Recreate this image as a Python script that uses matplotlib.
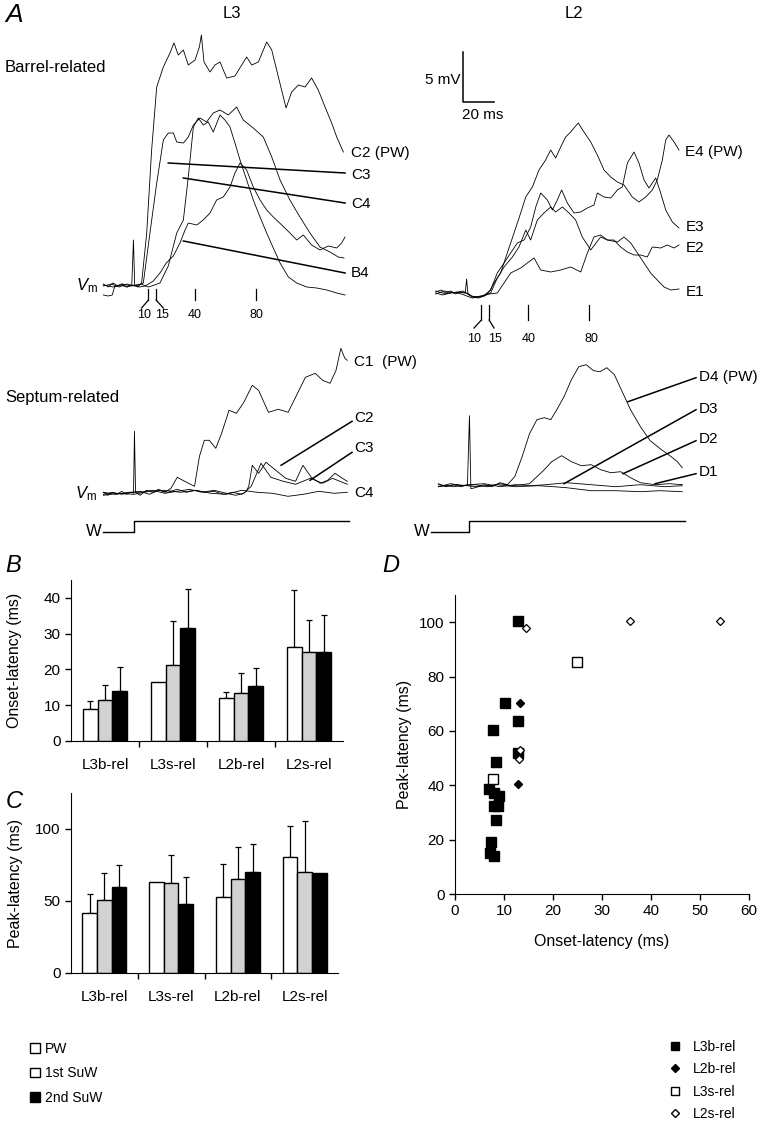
import numpy as np
import matplotlib
matplotlib.use('Agg')
import matplotlib.pyplot as plt
from matplotlib.patches import Patch
from matplotlib.lines import Line2D

plt.rcParams['font.family'] = ['Liberation Sans', 'DejaVu Sans']
plt.rcParams['mathtext.fontset'] = 'custom'
plt.rcParams['mathtext.rm'] = 'Liberation Sans'
plt.rcParams['mathtext.it'] = 'Liberation Sans:italic'

W, H = 768, 1131
PXMS = 1.54   # pixels per ms in panel A
PXMV = 10.0   # pixels per mV in panel A

# ---------------- panel A: traces, (time ms, Vm mV above baseline) ----------------
l3b_c2 = [(-19.3, 0.2), (-16, -0.1), (-13, 0.3), (-10, 0.0), (-7, 0.2), (-4, -0.1), (-0.8, 0.1),
          (0.3, 4.6), (1.1, 0.1), (3, -0.1), (5.6, 0.3), (8.9, 5.3), (12.1, 13.6), (15.4, 19.9),
          (19.7, 21.9), (24.0, 23.3), (26.6, 24.3), (29.4, 23.1), (32.7, 23.6), (35.9, 22.1),
          (40.3, 22.6), (43.1, 23.9), (44.4, 25.1), (46.1, 22.4), (50.0, 21.4), (53.2, 22.1),
          (56.5, 22.4), (60.8, 20.8), (66.2, 21.0), (70.6, 22.1), (73.8, 22.9), (77.1, 22.1),
          (81.4, 22.4), (86.8, 24.4), (90.1, 23.6), (94.4, 20.9), (99.4, 17.8), (103.0, 19.4),
          (107.4, 20.1), (111.7, 19.9), (116.0, 20.8), (120.3, 19.6), (124.7, 17.9), (129.0, 16.3),
          (132.3, 14.9), (136.6, 13.4)]
l3b_c3 = [(-19.3, 0.0), (-14, 0.2), (-9, -0.1), (-4, 0.2), (1, 0.0), (4, 0.1), (6.7, 0.3),
          (11.0, 5.3), (15.4, 10.3), (19.7, 14.6), (22.9, 15.3), (26.2, 15.3), (28.4, 14.4),
          (32.7, 14.3), (35.9, 14.9), (39.2, 16.1), (43.5, 16.8), (47.8, 16.4), (52.1, 17.3),
          (56.5, 17.6), (61.9, 17.1), (67.3, 17.9), (71.6, 16.6), (78.1, 15.8), (84.6, 14.9),
          (90.1, 12.9), (95.5, 10.6), (101.9, 8.6), (108.4, 6.9), (114.9, 5.3), (121.4, 3.9),
          (127.9, 3.4), (133.3, 2.9), (137.0, 2.8)]
l3b_c4 = [(-19.3, 0.1), (-13, -0.1), (-7, 0.2), (-1, 0.0), (5, 0.2), (10, -0.1), (14, 0.1),
          (17.5, 0.3), (22.9, 2.0), (28.4, 5.3), (32.7, 6.6), (35.9, 10.9), (39.2, 15.9),
          (42.4, 16.8), (45.6, 16.1), (48.9, 16.4), (52.1, 15.4), (56.5, 17.1), (59.7, 16.6),
          (63.0, 15.9), (66.2, 14.3), (69.5, 12.6), (73.8, 10.6), (78.1, 8.6), (82.5, 6.9),
          (86.8, 5.3), (91.1, 3.8), (95.5, 2.3), (100.9, 0.9), (106.3, 0.3), (112.8, -0.1),
          (119.3, -0.2), (125.8, -0.4), (132.3, -0.7), (137.7, -0.9)]
l3b_b4 = [(-19.3, -0.9), (-16, -1.0), (-13.5, -0.9), (-12, -0.1), (-8, 0.1), (-4, -0.1),
          (0, 0.1), (4, -0.1), (8, 0.0), (13.2, 0.5), (17.5, 1.3), (21.6, 2.3), (26.2, 3.0),
          (30.5, 4.3), (33.8, 5.6), (35.9, 6.3), (41.4, 6.1), (45.6, 6.6), (50.0, 7.3),
          (54.3, 8.6), (58.6, 8.9), (63.0, 9.9), (66.2, 11.3), (69.5, 12.3), (73.8, 11.6),
          (78.1, 9.9), (82.5, 8.6), (86.8, 7.6), (91.1, 6.9), (96.6, 6.1), (101.9, 5.3),
          (106.3, 4.6), (110.6, 5.1), (116.0, 4.1), (121.4, 3.6), (126.8, 4.0), (132.3, 3.8),
          (135.5, 4.3), (137.7, 4.9)]

l2b_e4 = [(-19.7, 0.3), (-16, 0.5), (-13, 0.2), (-10, 0.4), (-7, 0.1), (-4, 0.3), (-0.5, 0.2),
          (0.4, 1.6), (1.2, 0.2), (4, -0.2), (8, -0.3), (12, -0.1), (15, 0.3), (18.2, 1.2),
          (22.5, 2.2), (26.8, 4.2), (31.2, 6.2), (35.5, 8.2), (38.8, 9.8), (43.1, 10.8),
          (47.4, 12.5), (51.7, 13.5), (55.0, 14.5), (58.2, 13.7), (61.5, 14.8), (64.7, 15.8),
          (68.0, 16.3), (70.1, 16.7), (72.9, 17.2), (76.6, 16.3), (81.0, 15.3), (85.3, 14.0),
          (89.6, 12.5), (94.0, 11.8), (98.3, 11.3), (102.6, 11.0), (108.0, 9.8), (112.3, 9.3),
          (116.7, 9.8), (121.0, 10.5), (124.2, 11.5), (127.5, 13.5), (129.7, 15.5), (131.8, 16.0),
          (135.1, 15.3), (138.3, 14.5)]
l2b_e3 = [(-19.7, 0.1), (-14, 0.4), (-8, 0.2), (-2, 0.4), (3, -0.1), (8, -0.2), (12, 0.0),
          (16.0, 0.5), (20.3, 2.2), (24.7, 3.2), (29.0, 4.2), (33.3, 5.2), (37.7, 5.5),
          (42.0, 6.8), (45.3, 8.8), (48.5, 10.2), (52.8, 9.5), (56.1, 8.5), (59.3, 9.5),
          (62.1, 10.5), (65.8, 9.2), (70.1, 8.2), (74.5, 8.3), (78.8, 8.7), (83.1, 9.0),
          (85.3, 10.2), (89.6, 9.8), (94.0, 9.7), (98.3, 10.5), (101.5, 10.8), (104.8, 13.2),
          (109.1, 14.3), (112.3, 13.2), (115.6, 11.5), (118.8, 10.7), (123.2, 11.7),
          (126.4, 10.2), (129.7, 8.5), (134.0, 7.3), (138.3, 6.7)]
l2b_e2 = [(-19.7, 0.4), (-13, 0.1), (-6, 0.3), (0, 0.2), (5, -0.2), (10, -0.1), (15, 0.1),
          (20.3, 0.2), (24.7, 1.2), (29.0, 2.2), (35.5, 2.7), (39.8, 3.2), (44.2, 3.7),
          (48.5, 2.5), (55.0, 2.3), (61.5, 2.5), (68.0, 2.8), (74.5, 2.3), (78.8, 4.2),
          (83.1, 5.8), (87.4, 6.0), (91.8, 5.5), (96.1, 5.5), (100.4, 4.8), (104.8, 4.3),
          (109.1, 4.0), (113.4, 4.0), (117.7, 3.8), (121.0, 4.8), (126.4, 4.7), (130.7, 5.0),
          (135.1, 4.7), (138.3, 5.0)]
l2b_e1 = [(-19.7, 0.2), (-15, 0.0), (-9, 0.3), (-3, 0.1), (4, -0.3), (9, -0.2), (13, 0.0),
          (16.0, 0.2), (20.3, 1.7), (24.7, 2.8), (30.1, 3.8), (34.4, 4.8), (38.8, 6.5),
          (42.0, 5.5), (46.3, 7.5), (50.6, 8.2), (55.0, 8.8), (58.2, 8.3), (62.6, 8.8),
          (66.9, 8.2), (71.2, 7.5), (75.5, 5.8), (81.0, 4.5), (87.4, 5.8), (91.8, 5.5),
          (98.3, 5.3), (102.6, 5.8), (107.0, 5.2), (111.3, 4.2), (115.6, 3.2), (119.9, 2.2),
          (124.2, 1.5), (128.6, 0.8), (132.9, 0.5), (138.3, 0.6)]

l3s_c1 = [(-19.9, 0.1), (-17, -0.2), (-14, 0.1), (-11, -0.1), (-8, 0.2), (-5, -0.1), (-2, 0.1),
          (-0.3, 0.0), (0.3, 6.2), (1.0, 0.1), (4, -0.2), (8, 0.3), (12, 0.1), (16, 0.4),
          (20, 0.1), (24, 0.5), (28.1, 1.6), (32.9, 1.2), (39.3, 0.7), (42.5, 3.7), (45.7, 5.3),
          (48.9, 5.3), (53.1, 4.5), (56.9, 6.0), (61.7, 8.3), (66.5, 8.0), (71.3, 9.1),
          (76.8, 10.8), (80.9, 10.3), (87.3, 8.1), (93.7, 8.4), (100.1, 8.1), (104.9, 9.6),
          (111.3, 11.6), (117.7, 12.0), (122.5, 11.3), (127.3, 11.0), (131.2, 12.3),
          (134.3, 14.5), (136.9, 13.5), (138.5, 13.3)]
l3s_c2 = [(-19.9, -0.1), (-14, 0.1), (-8, -0.1), (-2, 0.1), (4, 0.2), (10, -0.1), (16, 0.3),
          (22, 0.1), (28, 0.4), (34, 0.1), (40, 0.3), (46, 0.1), (52, 0.2), (58, -0.1),
          (64, 0.1), (70, -0.1), (72.9, 0.2), (74.5, 0.7), (76.8, 2.8), (80.9, 2.0), (85.7, 3.1),
          (92.1, 2.3), (98.5, 1.5), (104.9, 1.2), (109.7, 2.8), (115.1, 1.6), (120.9, 1.0),
          (125.7, 1.3), (130.5, 2.0), (135.3, 1.5), (138.5, 1.2)]
l3s_c3 = [(-19.9, 0.1), (-12, -0.1), (-4, 0.1), (4, 0.1), (12, 0.3), (20, 0.0), (28, 0.2),
          (36, 0.4), (44, 0.1), (52, 0.3), (60, 0.0), (66, -0.2), (71.3, 0.0), (76.1, 0.7),
          (82.5, 3.0), (88.9, 1.6), (96.9, 1.2), (104.9, 0.9), (114.5, 1.5), (122.5, 1.0),
          (128.9, 1.5), (133.7, 1.2), (138.5, 0.9)]
l3s_c4 = [(-19.9, -0.2), (-10, 0.0), (0, -0.1), (10, 0.2), (20, 0.3), (30, 0.1), (40, 0.3),
          (50, 0.0), (60, -0.1), (70, 0.3), (80, 0.1), (90, 0.0), (100, -0.3), (110, -0.1),
          (120, 0.2), (130, 0.0), (138.5, 0.1)]

l2s_d4 = [(-19.9, 0.2), (-15, -0.1), (-10, 0.1), (-5, -0.1), (-1, 0.1), (0.3, 7.0), (1.2, -0.3),
          (4, -0.2), (10, 0.1), (15, -0.1), (20, 0.3), (24.9, 0.1), (29.7, 0.9), (34.5, 2.9),
          (39.3, 5.2), (44.1, 6.6), (48.9, 6.8), (53.1, 6.6), (57.0, 7.6), (61.7, 8.9),
          (66.5, 10.6), (71.3, 11.9), (76.1, 12.1), (80.9, 11.5), (85.1, 11.4), (89.5, 11.8),
          (94.4, 11.1), (99.2, 9.5), (104.9, 7.6), (111.3, 5.9), (117.7, 4.5), (124.1, 3.7),
          (130.5, 3.0), (135.3, 2.4), (138.5, 1.8)]
l2s_d3 = [(-19.9, -0.1), (-12, 0.2), (-4, 0.0), (4, 0.1), (12, -0.1), (20, 0.2), (28, 0.0),
          (34, 0.1), (39.3, 0.2), (44.1, 0.9), (48.9, 1.6), (53.7, 2.4), (60.1, 3.0), (66.5, 2.4),
          (72.9, 2.0), (79.3, 2.1), (85.5, 1.6), (92.1, 1.3), (98.5, 1.4), (104.9, 0.8),
          (111.3, 0.3), (120.9, 0.1), (130, 0.2), (138.5, 0.1)]
l2s_d2 = [(-19.9, 0.1), (-10, -0.1), (0, 0.1), (10, 0.2), (20, -0.1), (30, 0.1), (40, 0.0),
          (50, 0.1), (63.3, 0.3), (79.3, 0.1), (95.3, -0.1), (111.3, 0.1), (127.3, -0.1),
          (138.5, 0.0)]
l2s_d1 = [(-19.9, -0.1), (-8, 0.1), (5, -0.1), (18, 0.1), (30, -0.1), (45, 0.0), (55, -0.1),
          (63.3, -0.2), (79.3, -0.5), (95.3, -0.5), (111.3, -0.6), (124.1, -0.5), (138.5, -0.6)]

# label pointer lines: ((t_on_trace, v_on_trace), (t_at_label, v_at_label))
l3b_pointers = [((22.9, 12.3), (137.7, 11.3)), ((32.7, 10.8), (137.7, 8.3)),
                ((32.7, 4.5), (137.7, 1.3))]
l3s_pointers = [((95.5, 2.8), (141.6, 7.2)), ((114.3, 1.3), (141.6, 4.1))]
l2s_pointers = [((103.2, 8.4), (147.4, 10.8)), ((61.7, 0.2), (147.4, 7.6)),
                ((100.0, 1.2), (147.4, 4.5)), ((120.8, 0.2), (147.4, 1.2))]

l3b_labels = [('C2 (PW)', 13.3), ('C3', 11.1), ('C4', 8.2), ('B4', 1.3)]
l2b_labels = [('E4 (PW)', 14.3), ('E3', 6.8), ('E2', 4.7), ('E1', 0.3)]
l3s_labels = [('C1  (PW)', 13.1), ('C2', 7.5), ('C3', 4.5), ('C4', 0.0)]
l2s_labels = [('D4 (PW)', 10.9), ('D3', 7.7), ('D2', 4.7), ('D1', 1.4)]

latency_ticks = [10, 15, 40, 80]

# ---------------- panels B, C ----------------
groups = ['L3b-rel', 'L3s-rel', 'L2b-rel', 'L2s-rel']
onset_pw = [9.0, 16.5, 12.0, 26.2]
onset_pw_err = [2.2, 0.0, 1.8, 16.0]
onset_1st = [11.5, 21.3, 13.5, 25.0]
onset_1st_err = [4.2, 12.3, 5.5, 8.8]
onset_2nd = [14.1, 31.6, 15.5, 25.0]
onset_2nd_err = [6.6, 10.9, 4.9, 10.2]

peak_pw = [41.9, 63.0, 53.0, 80.5]
peak_pw_err = [13.0, 0.0, 23.0, 21.8]
peak_1st = [50.7, 62.3, 65.0, 70.4]
peak_1st_err = [18.5, 19.7, 22.7, 35.1]
peak_2nd = [60.0, 48.0, 70.4, 69.7]
peak_2nd_err = [15.0, 19.0, 19.2, 0.0]

# ---------------- panel D ----------------
l3b_onset = [10.2, 12.9, 7.8, 8.4, 7.0, 8.0, 8.9, 8.0, 8.7, 8.4, 7.3, 7.2, 8.0, 12.9, 12.9]
l3b_peak = [70.3, 63.6, 60.3, 48.4, 38.5, 37.0, 36.0, 32.4, 32.4, 27.4, 19.2, 15.2, 14.0, 52.0, 100.4]
l2b_onset = [13.2, 12.9]
l2b_peak = [70.3, 40.3]
l3s_onset = [7.8, 24.8]
l3s_peak = [42.3, 85.4]
l2s_onset = [13.2, 13.1, 14.4, 35.7, 54.0]
l2s_peak = [53.0, 49.5, 97.7, 100.4, 100.4]


fig = plt.figure(figsize=(W / 100, H / 100), dpi=100)


def px_ax(l, r, t, b):
    return fig.add_axes([l / W, 1 - b / H, (r - l) / W, (b - t) / H])


def trace_ax(l, r, t, b, t0, yb):
    ax = px_ax(l, r, t, b)
    ax.set_xlim((l - t0) / PXMS, (r - t0) / PXMS)
    ax.set_ylim((yb - b) / PXMV, (yb - t) / PXMV)
    ax.axis('off')
    return ax


def draw_traces(ax, traces):
    for tr in traces:
        t, v = np.array(tr).T
        ax.plot(t, v, color='k', lw=0.6)


def draw_labels(ax, labels, tx):
    for txt, v in labels:
        ax.text(tx, v, txt, ha='left', va='center', fontsize=11)


def draw_pointers(ax, pointers):
    for (a, b) in pointers:
        ax.plot([a[0], b[0]], [a[1], b[1]], color='k', lw=1.1)


def draw_latency_ticks(ax, vtop, vbot, vdiag, vlab, diag_t, lab_t):
    for i, tk in enumerate(latency_ticks):
        ax.plot([tk, tk], [vtop, vbot], color='k', lw=0.9)
        if i < 2:
            ax.plot([tk, diag_t[i]], [vbot, vdiag], color='k', lw=0.9)
        ax.text(lab_t[i], vlab, str(tk), ha='center', va='center', fontsize=9)


# A1: L3 barrel-related
ax = trace_ax(60, 420, 25, 330, 133, 286)
draw_traces(ax, [l3b_b4, l3b_c4, l3b_c3, l3b_c2])
draw_pointers(ax, l3b_pointers)
draw_labels(ax, l3b_labels, 141.5)
draw_latency_ticks(ax, -0.3, -1.4, -2.2, -2.95, [5.6, 19.7], [6.9, 19.0, 40, 80])
ax.text(-23.0, 0.0, r'$V_{\rm m}$', ha='right', va='center', fontsize=12)

# A2: L2 barrel-related
ax = trace_ax(420, 768, 25, 345, 466, 295)
draw_traces(ax, [l2b_e1, l2b_e2, l2b_e3, l2b_e4])
draw_labels(ax, l2b_labels, 142.5)
draw_latency_ticks(ax, -1.0, -2.5, -3.3, -4.4, [5.2, 18.2], [5.5, 19.0, 40.6, 81.5])
ax.plot([-2, -2, 18], [24.3, 19.3, 19.3], color='k', lw=1.1)
ax.text(-3.5, 21.5, '5 mV', ha='right', va='center', fontsize=11)
ax.text(11, 18.0, '20 ms', ha='center', va='center', fontsize=11)

# A3: L3 septum-related
ax = trace_ax(60, 420, 340, 550, 134, 493.3)
draw_traces(ax, [l3s_c4, l3s_c3, l3s_c2, l3s_c1])
draw_pointers(ax, l3s_pointers)
draw_labels(ax, l3s_labels, 143.0)
ax.text(-24.0, 0.0, r'$V_{\rm m}$', ha='right', va='center', fontsize=12)
ax.plot([-20.1, 0, 0, 139.6], [-3.85, -3.85, -2.75, -2.75], color='k', lw=1.0)
ax.text(-20.8, -3.85, 'W', ha='right', va='center', fontsize=12)

# A4: L2 septum-related
ax = trace_ax(415, 768, 340, 550, 469, 485.7)
draw_traces(ax, [l2s_d1, l2s_d2, l2s_d3, l2s_d4])
draw_pointers(ax, l2s_pointers)
draw_labels(ax, l2s_labels, 149.5)
ax.plot([-24.7, 0, 0, 140.3], [-4.6, -4.6, -3.5, -3.5], color='k', lw=1.0)
ax.text(-25.3, -4.6, 'W', ha='right', va='center', fontsize=12)

fig.text(5 / W, 1 - 15 / H, 'A', fontsize=19, style='italic', va='center', ha='left')
fig.text(232 / W, 1 - 14 / H, 'L3', fontsize=12, va='center', ha='center')
fig.text(574 / W, 1 - 14 / H, 'L2', fontsize=12, va='center', ha='center')
fig.text(5 / W, 1 - 67 / H, 'Barrel-related', fontsize=12, va='center', ha='left')
fig.text(5 / W, 1 - 398 / H, 'Septum-related', fontsize=12, va='center', ha='left')


def style_axes(ax):
    for s in ['top', 'right']:
        ax.spines[s].set_visible(False)
    ax.tick_params(direction='out', length=4, width=1, labelsize=11)


def bar_panel(ax, means, errs, ymax, yticks, ylabel):
    x = np.arange(len(groups))
    colors = ['white', '#d2d2d2', 'black']
    for k, (m, e) in enumerate(zip(means, errs)):
        xs = x + (k - 1) * 0.22
        ax.bar(xs, m, width=0.22, color=colors[k], edgecolor='k', lw=1, zorder=2)
        m = np.array(m)
        e = np.array(e)
        keep = e > 0
        ax.errorbar(xs[keep], m[keep], yerr=[np.zeros(keep.sum()), e[keep]], fmt='none',
                    ecolor='k', elinewidth=0.9, capsize=2.5, capthick=0.9, zorder=1)
    ax.set_xlim(-0.5, 3.5)
    ax.set_ylim(0, ymax)
    ax.set_yticks(yticks)
    ax.set_xticks([0.5, 1.5, 2.5])
    ax.set_xticklabels([])
    ax.set_xticks(x, minor=True)
    ax.set_xticklabels(groups, minor=True)
    style_axes(ax)
    ax.tick_params(axis='x', which='minor', length=0, pad=12, labelsize=11)
    ax.set_ylabel(ylabel, fontsize=11.5)
    ax.yaxis.set_label_coords(-0.18, 0.5)


axB = px_ax(71, 343, 580, 741)
bar_panel(axB, [onset_pw, onset_1st, onset_2nd], [onset_pw_err, onset_1st_err, onset_2nd_err],
          45, [0, 10, 20, 30, 40], 'Onset-latency (ms)')
fig.text(5 / W, 1 - 566 / H, 'B', fontsize=17, style='italic', va='center', ha='left')

axC = px_ax(71, 338, 793, 973)
bar_panel(axC, [peak_pw, peak_1st, peak_2nd], [peak_pw_err, peak_1st_err, peak_2nd_err],
          125, [0, 50, 100], 'Peak-latency (ms)')
fig.text(6 / W, 1 - 801 / H, 'C', fontsize=17, style='italic', va='center', ha='left')

axD = px_ax(455, 749, 595, 894)
axD.plot(l3b_onset, l3b_peak, 's', color='k', ms=7.2, ls='none')
axD.plot(l2b_onset, l2b_peak, 'D', color='k', ms=4.2, ls='none')
axD.plot(l3s_onset, l3s_peak, 's', mfc='white', mec='k', mew=1.0, ms=6.5, ls='none')
axD.plot(l2s_onset, l2s_peak, 'D', mfc='white', mec='k', mew=0.9, ms=4.0, ls='none')
axD.set_xlim(0, 60)
axD.set_ylim(0, 110)
axD.set_xticks(range(0, 61, 10))
axD.set_yticks(range(0, 101, 20))
style_axes(axD)
axD.set_xlabel('Onset-latency (ms)', fontsize=11.5)
axD.set_ylabel('Peak-latency (ms)', fontsize=11.5)
axD.xaxis.set_label_coords(0.5, -0.135)
axD.yaxis.set_label_coords(-0.146, 0.5)
fig.text(382 / W, 1 - 566 / H, 'D', fontsize=17, style='italic', va='center', ha='left')

bar_handles = [Patch(facecolor='white', edgecolor='k', lw=1),
               Patch(facecolor='white', edgecolor='k', lw=1),
               Patch(facecolor='black', edgecolor='k', lw=1)]
fig.legend(bar_handles, ['PW', '1st SuW', '2nd SuW'], loc='upper left',
           bbox_to_anchor=(30 / W, 1 - 1042 / H), frameon=False, fontsize=10,
           handlelength=0.7, handleheight=0.7, handletextpad=0.4, labelspacing=0.75,
           borderpad=0, borderaxespad=0)

pt_handles = [Line2D([], [], marker='s', color='k', ls='none', ms=6),
              Line2D([], [], marker='D', color='k', ls='none', ms=4),
              Line2D([], [], marker='s', mfc='white', mec='k', ls='none', ms=6),
              Line2D([], [], marker='D', mfc='white', mec='k', ls='none', ms=4)]
fig.legend(pt_handles, ['L3b-rel', 'L2b-rel', 'L3s-rel', 'L2s-rel'], loc='upper left',
           bbox_to_anchor=(668 / W, 1 - 1040 / H), frameon=False, fontsize=10,
           handlelength=1.0, handletextpad=0.8, labelspacing=0.6,
           borderpad=0, borderaxespad=0)

fig.savefig('out.png', dpi=100)
